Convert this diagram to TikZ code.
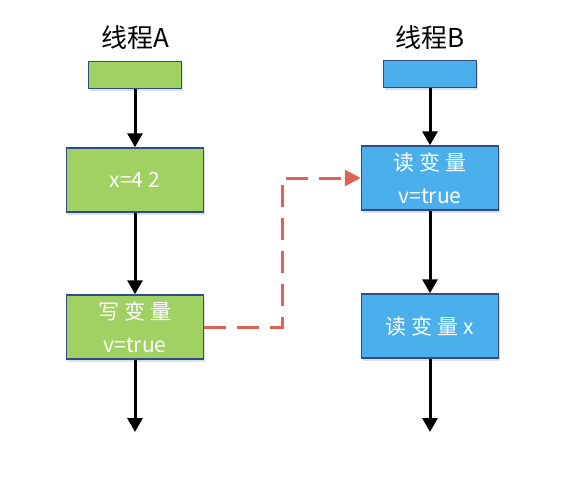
\documentclass[tikz,border=0pt]{standalone}
\usepackage{fontspec}
\usetikzlibrary{arrows.meta,shadows}
\setmainfont{Noto Sans CJK SC}
\definecolor{threadgreen}{HTML}{A1D063}
\definecolor{threadblue}{HTML}{4AAFEA}
\definecolor{boxedge}{HTML}{2E4C8A}
\definecolor{signalred}{HTML}{DF6259}
\newcommand{\gap}{\hspace{5pt}}
\tikzset{
  opbox/.style={
    draw=boxedge,
    line width=1.5pt,
    align=center,
    inner sep=0pt,
    text=white,
    font=\fontsize{21}{33}\selectfont,
    drop shadow={opacity=0.25, shadow xshift=1.5pt, shadow yshift=-2.5pt}
  },
  greenbox/.style={opbox, fill=threadgreen},
  bluebox/.style={opbox, fill=threadblue},
  headbox/.style={minimum width=93pt, minimum height=27pt},
  stepbox/.style={minimum width=137pt, minimum height=64pt},
  title/.style={font=\fontsize{26}{30}\selectfont, text=black},
  flowarrow/.style={-{Triangle[width=15pt,length=14pt]}, line width=3pt, draw=black},
  syncarrow/.style={-{Triangle[width=16pt,length=16pt]}, line width=3pt, draw=signalred,
    dash pattern=on 22pt off 11pt}
}
\begin{document}
\begin{tikzpicture}[x=1pt,y=-1pt]
\useasboundingbox (0,0) rectangle (574,480);
% thread A
\node[title] (titleA) at (135,38) {线程A};
\node[greenbox, headbox] (headA) at (135,75) {};
\node[greenbox, stepbox] (setx) at (135,180) {x=4\gap{}2};
\node[greenbox, stepbox] (writev) at (135,327) {写\gap{}变\gap{}量\\v=true};
\coordinate (endA) at (135,432);
% thread B
\node[title] (titleB) at (430,38) {线程B};
\node[bluebox, headbox] (headB) at (430,74) {};
\node[bluebox, stepbox] (readv) at (430,178) {读\gap{}变\gap{}量\\v=true};
\node[bluebox, stepbox] (readx) at (430,326) {读\gap{}变\gap{}量\gap{}x};
\coordinate (endB) at (430,432);

\draw[flowarrow] (headA) -- (setx);
\draw[flowarrow] (setx) -- (writev);
\draw[flowarrow] (writev) -- (endA);
\draw[flowarrow] (headB) -- (readv);
\draw[flowarrow] (readv) -- (readx);
\draw[flowarrow] (readx) -- (endB);
% happens-before
\draw[syncarrow] (writev.east) -- ++(78,0) |- (readv.west);
\end{tikzpicture}
\end{document}
